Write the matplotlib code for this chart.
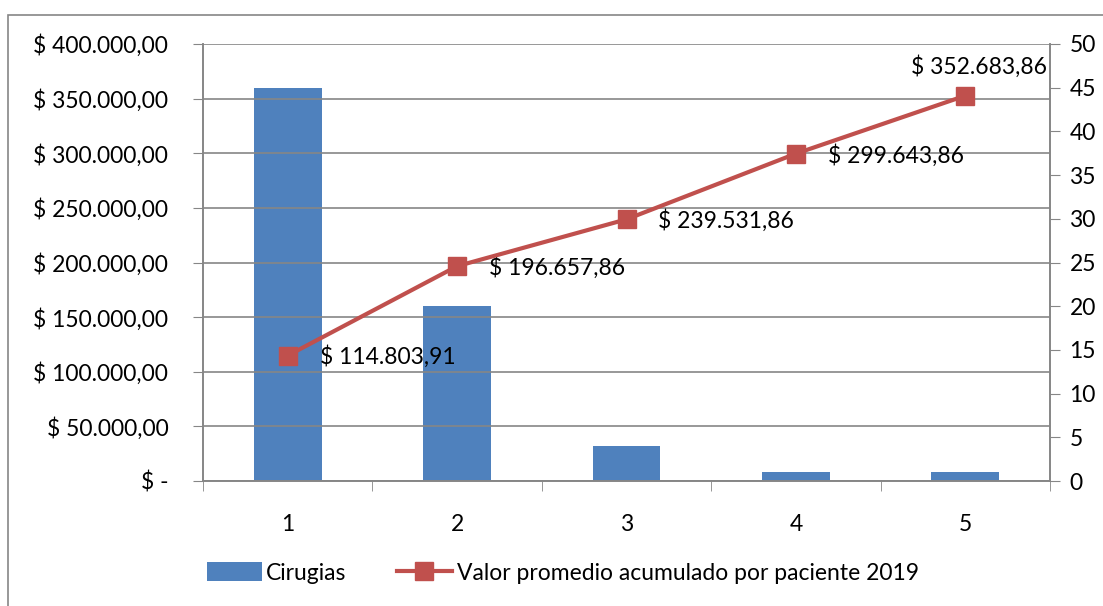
import matplotlib
matplotlib.use("Agg")
import matplotlib.pyplot as plt
from matplotlib.patches import Rectangle
from matplotlib.ticker import FuncFormatter, MultipleLocator
import numpy as np

plt.rcParams['font.family'] = ['Lato', 'DejaVu Sans']

categorias = [1, 2, 3, 4, 5]
cirugias = [45, 20, 4, 1, 1]
valor_acumulado = [114803.91, 196657.86, 239531.86, 299643.86, 352683.86]
etiquetas = ["$ 114.803,91", "$ 196.657,86", "$ 239.531,86", "$ 299.643,86", "$ 352.683,86"]

azul = '#4F81BD'
rojo = '#C0504D'
gris = '#868686'
fs = 16.5


def pesos(v, pos):
    if v == 0:
        return "$ -"
    s = f"{v:,.2f}".replace(",", "X").replace(".", ",").replace("X", ".")
    return "$ " + s


fig = plt.figure(figsize=(11.03, 6.06), dpi=100)
fig.patches.append(Rectangle((8 / 1103, -0.1), 1.2, 1 - 15 / 606 + 0.1,
                             transform=fig.transFigure, fill=False,
                             edgecolor=gris, linewidth=1.2))

ax = fig.add_axes([203 / 1103, 1 - 481 / 606, 847 / 1103, 437 / 606])
ax2 = ax.twinx()

x = np.array(categorias)
barras = ax2.bar(x, cirugias, width=0.4, color=azul, label="Cirugias", zorder=2)
ax2.set_ylim(0, 50)
ax2.yaxis.set_major_locator(MultipleLocator(5))

linea, = ax.plot(x, valor_acumulado, color=rojo, linewidth=3, marker='s',
                 markersize=13, label="Valor promedio acumulado por paciente 2019",
                 zorder=5)
ax.set_ylim(0, 400000)
ax.yaxis.set_major_locator(MultipleLocator(50000))
ax.yaxis.set_major_formatter(FuncFormatter(pesos))
ax.set_xlim(0.5, 5.5)
ax.set_xticks(x)
ax.set_xticks(np.arange(0.5, 5.6, 1), minor=True)
ax.tick_params(axis='x', which='major', length=0, pad=24, labelsize=fs)
ax.tick_params(axis='x', which='minor', length=7, color=gris, direction='out')
ax.tick_params(axis='y', length=7, color=gris, labelsize=fs, pad=18)
ax2.tick_params(axis='y', length=7, color=gris, labelsize=fs, pad=7)

ax.grid(axis='y', color=gris, linewidth=1.2)
ax.set_axisbelow(True)

# put line above bars
ax.set_zorder(ax2.get_zorder() + 1)
ax.patch.set_visible(False)

for a in (ax, ax2):
    a.spines['top'].set_visible(False)
    for s in ('left', 'right', 'bottom'):
        a.spines[s].set_color(gris)
        a.spines[s].set_linewidth(1.2)

for i, (xi, yi, t) in enumerate(zip(x, valor_acumulado, etiquetas)):
    if i == len(x) - 1:
        ax.annotate(t, (xi, yi), xytext=(10, 13), textcoords='offset points',
                    ha='center', va='bottom', fontsize=fs)
    else:
        ax.annotate(t, (xi, yi), xytext=(23, -1), textcoords='offset points',
                    ha='left', va='center', fontsize=fs)

fig.legend([barras, linea], ["Cirugias", "Valor promedio acumulado por paciente 2019"],
           loc='center', bbox_to_anchor=(0.51, 1 - 573 / 606), ncol=2, frameon=False,
           fontsize=fs, handlelength=2.4, handleheight=0.9, columnspacing=2.2,
           handletextpad=0.2)

fig.savefig("out.png", dpi=100)
